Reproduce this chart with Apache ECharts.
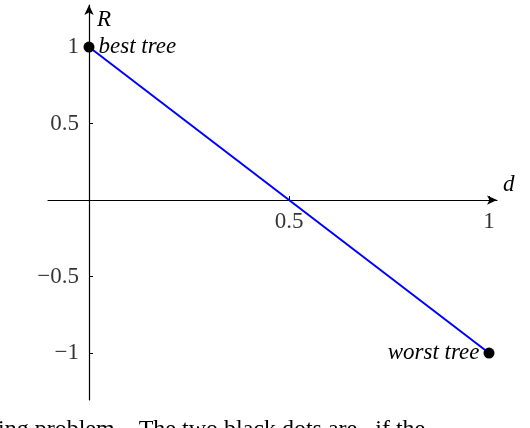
<!DOCTYPE html>
<html>
<head>
<meta charset="utf-8">
<script src="https://cdn.jsdelivr.net/npm/echarts@6/dist/echarts.min.js"></script>
<style>html,body{margin:0;padding:0;background:#fff}#main{width:530px;height:428px}</style>
</head>
<body>
<div id="main"></div>
<script>
var xValues = [0, 1];
var yValues = [1, -1];
var pointLabels = ['best tree', 'worst tree'];
var xTicks = [0.5, 1];
var yTicks = [-1, -0.5, 0.5, 1];

var serif = '"Liberation Serif", "DejaVu Serif", serif';
var myChart = echarts.init(document.getElementById('main'));

function fmt(v) {
    if (v < 0) return '\u2212' + (-v);
    return String(v);
}

var lineData = xValues.map(function (x, i) { return [x, yValues[i]]; });
var dotData = lineData.map(function (p, i) {
    return {
        value: p,
        label: {
            show: true,
            formatter: pointLabels[i],
            position: i === 0 ? 'right' : 'left',
            distance: 4,
            fontFamily: serif,
            fontStyle: 'italic',
            fontSize: 23,
            color: '#000'
        }
    };
});
var xTickData = xTicks.map(function (v) {
    return { value: [v, 0], label: { show: true, formatter: fmt(v), position: 'bottom', distance: 10 } };
});
var yTickData = yTicks.map(function (v) {
    return { value: [0, v], label: { show: true, formatter: fmt(v), position: 'left', distance: 10 } };
});

option = {
    backgroundColor: '#fff',
    animation: false,
    grid: { left: 48, right: 33, top: 5, bottom: 28 },
    xAxis: {
        type: 'value',
        min: -0.1025, max: 1.02,
        name: 'd',
        nameLocation: 'end',
        nameGap: 6,
        nameTextStyle: { fontFamily: serif, fontStyle: 'italic', fontSize: 23, color: '#000', verticalAlign: 'bottom', padding: [0, 0, 4, 0] },
        axisLine: { onZero: true, symbol: ['none', 'arrow'], symbolSize: [7, 10], lineStyle: { color: '#000', width: 1.2 } },
        axisTick: { show: true, inside: true, length: 4, customValues: xTicks, lineStyle: { color: '#000' } },
        axisLabel: { show: false },
        splitLine: { show: false }
    },
    yAxis: {
        type: 'value',
        min: -1.307, max: 1.275,
        name: 'R',
        nameLocation: 'end',
        nameGap: -26,
        nameTextStyle: { fontFamily: serif, fontStyle: 'italic', fontSize: 23, color: '#000', align: 'left', padding: [0, 0, 0, 8] },
        axisLine: { onZero: true, symbol: ['none', 'arrow'], symbolSize: [7, 10], lineStyle: { color: '#000', width: 1.2 } },
        axisTick: { show: true, inside: true, length: 4, customValues: yTicks, lineStyle: { color: '#000' } },
        axisLabel: { show: false },
        splitLine: { show: false }
    },
    series: [
        {
            type: 'line',
            data: lineData,
            symbol: 'none',
            lineStyle: { color: '#0000ff', width: 2 }
        },
        {
            type: 'scatter',
            data: dotData,
            symbolSize: 11,
            itemStyle: { color: '#000', opacity: 1 },
            z: 5
        },
        {
            type: 'scatter',
            data: xTickData.concat(yTickData),
            symbolSize: 0,
            silent: true,
            label: { fontFamily: serif, fontSize: 23, color: '#000' }
        }
    ],
    graphic: [{
        type: 'text',
        left: -2,
        top: 418,
        style: { text: 'ing problem.   The two black dots are   if the', font: '24px ' + serif, fill: '#000' }
    }]
};

myChart.setOption(option);
</script>
</body>
</html>
